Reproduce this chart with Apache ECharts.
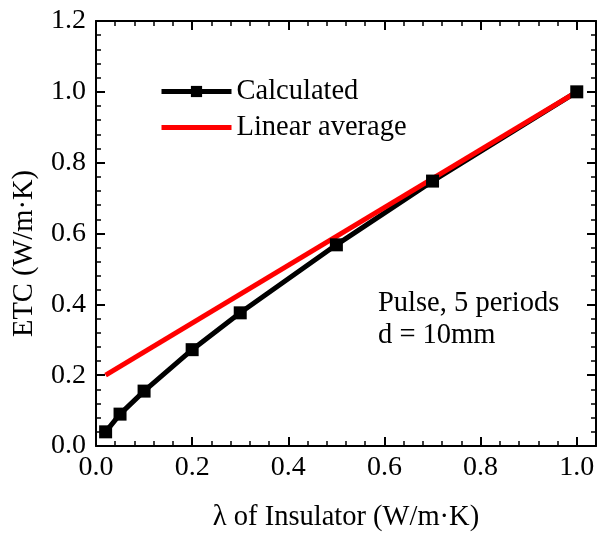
<!doctype html>
<html lang="en">
<head>
  <meta charset="utf-8">
  <title>ETC vs lambda</title>
  <script src="https://cdn.jsdelivr.net/npm/echarts@6/dist/echarts.min.js"></script>
  <style>
    html, body { margin: 0; padding: 0; background: #fff; }
    #chart { width: 598px; height: 536px; }
  </style>
</head>
<body>
  <div id="chart"></div>
  <script>
    // values
    var lambdaCalc = [0.02, 0.05, 0.1, 0.2, 0.3, 0.5, 0.7, 1.0];
    var etcCalc = [0.04, 0.09, 0.155, 0.272, 0.376, 0.568, 0.748, 1.0];
    var lambdaLinear = [0.02, 1.0];
    var etcLinear = [0.2, 1.0];
    var seriesNames = ['Calculated', 'Linear average'];
    var noteLines = ['Pulse, 5 periods', 'd = 10mm'];

    var font = "'Times New Roman', 'Liberation Serif', serif";

    function pairs(xs, ys) {
      return xs.map(function (x, i) { return [x, ys[i]]; });
    }

    var chart = echarts.init(document.getElementById('chart'));

    var lineStyle = { color: '#000', width: 2 };

    // major x axis (bottom/top), minor ticks drawn by a second axis at 0.04
    function xMajor(pos, labels) {
      return {
        type: 'value', position: pos, min: 0, max: 1.04, interval: 0.2,
        axisLine: { show: true, onZero: false, lineStyle: lineStyle },
        axisTick: { show: true, inside: true, length: 9, lineStyle: lineStyle },
        axisLabel: {
          show: labels, showMaxLabel: false, margin: 8,
          color: '#000', fontSize: 28, fontFamily: font,
          formatter: function (v) { return v.toFixed(1); }
        },
        splitLine: { show: false },
        name: labels ? 'λ of Insulator (W/m·K)' : '',
        nameLocation: 'middle', nameGap: 57,
        nameTextStyle: { color: '#000', fontSize: 28.5, fontFamily: font }
      };
    }
    function xMinor(pos) {
      return {
        type: 'value', position: pos, min: 0, max: 1.04, interval: 0.04,
        axisLine: { show: false, onZero: false },
        axisTick: { show: true, inside: true, length: 5, lineStyle: { color: '#000', width: 1.5 } },
        axisLabel: { show: false },
        splitLine: { show: false }
      };
    }
    function yAxisDef(pos, labels) {
      return {
        type: 'value', position: pos, min: 0, max: 1.2, interval: 0.2,
        axisLine: { show: true, onZero: false, lineStyle: lineStyle },
        axisTick: { show: true, inside: true, length: 9, lineStyle: lineStyle },
        minorTick: { show: true, splitNumber: 5, length: 5, lineStyle: { color: '#000', width: 1.5 } },
        axisLabel: {
          show: labels, margin: 10,
          color: '#000', fontSize: 28, fontFamily: font,
          formatter: function (v) { return v.toFixed(1); }
        },
        splitLine: { show: false },
        minorSplitLine: { show: false },
        name: labels ? 'ETC (W/m·K)' : '',
        nameLocation: 'middle', nameGap: 57,
        nameTextStyle: { color: '#000', fontSize: 28.5, fontFamily: font, padding: [0, 40, 0, 0] }
      };
    }

    var option = {
      backgroundColor: '#fff',
      animation: false,
      textStyle: { fontFamily: font, color: '#000' },
      grid: { left: 96, right: 2, top: 21, bottom: 90, outerBoundsMode: 'none' },
      xAxis: [xMajor('bottom', true), xMinor('bottom'), xMajor('top', false), xMinor('top')],
      yAxis: [yAxisDef('left', true), yAxisDef('right', false)],
      legend: {
        orient: 'vertical', left: 154, top: 72,
        itemWidth: 70, itemHeight: 14, itemGap: 7,
        lineStyle: { width: 5 },
        data: [
          { name: seriesNames[0] },
          { name: seriesNames[1], itemStyle: { opacity: 0 } }
        ],
        textStyle: { color: '#000', fontSize: 28.5, fontFamily: font }
      },
      graphic: [{
        type: 'text', left: 378, top: 288,
        style: {
          text: noteLines.join('\n'),
          fill: '#000', fontSize: 28.5, fontFamily: font, lineHeight: 32
        }
      }],
      series: [
        {
          name: seriesNames[0], type: 'line',
          data: pairs(lambdaCalc, etcCalc),
          symbol: 'rect', symbolSize: 13,
          itemStyle: { color: '#000' },
          lineStyle: { color: '#000', width: 5 }
        },
        {
          name: seriesNames[1], type: 'line',
          data: pairs(lambdaLinear, etcLinear),
          symbol: 'none',
          itemStyle: { color: '#ff0000' },
          lineStyle: { color: '#ff0000', width: 5 }
        }
      ]
    };

    chart.setOption(option);
  </script>
</body>
</html>
